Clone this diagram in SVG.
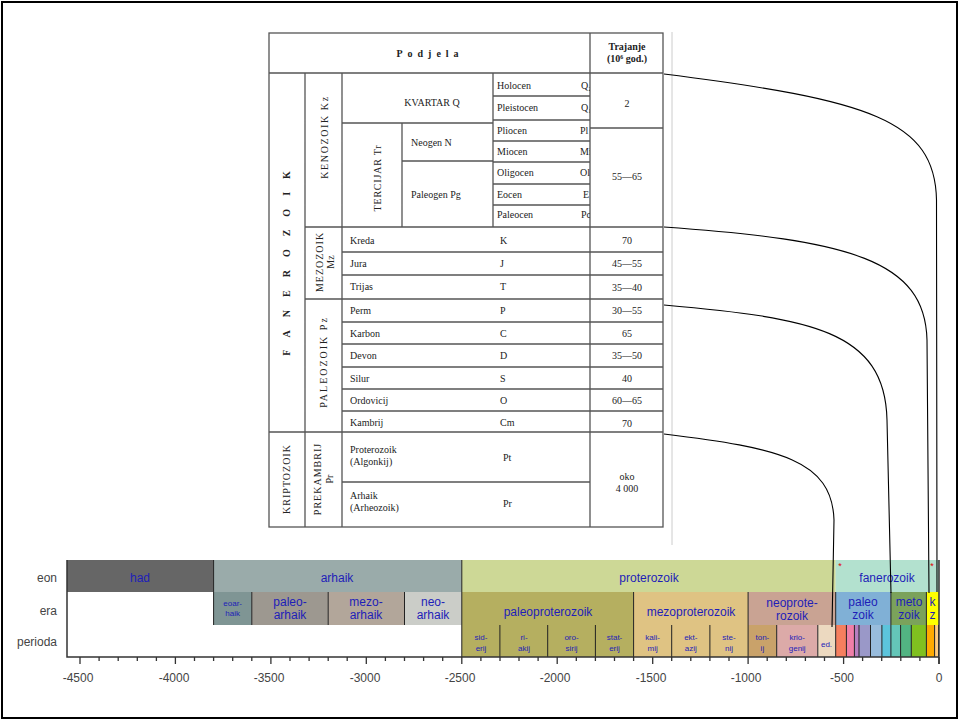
<svg xmlns="http://www.w3.org/2000/svg" width="960" height="720" viewBox="0 0 960 720">
<style>
.tl{stroke:#555;stroke-width:1.3;fill:none}
.tt{font-family:"Liberation Serif",serif;font-size:10px;fill:#222}
.tc{font-family:"Liberation Serif",serif;font-size:10px;fill:#222;text-anchor:middle}
.vt{font-family:"Liberation Serif",serif;font-size:10px;fill:#222;text-anchor:middle}
.conn{stroke:#000;stroke-width:1.1;fill:none}
.lbl{font-family:"Liberation Sans",Arial,sans-serif;font-size:12px;fill:#1e1eb8;text-anchor:middle}
.sm{font-size:8px}
.ax{font-family:"Liberation Sans",Arial,sans-serif;font-size:12px;fill:#444;text-anchor:middle}
.rl{font-family:"Liberation Sans",Arial,sans-serif;font-size:12px;fill:#444;text-anchor:end}
.sep{stroke:#222;stroke-width:1;fill:none}
.ast{font-family:"Liberation Sans",sans-serif;font-size:9px;fill:#e00000;text-anchor:middle}
</style>
<defs>
<clipPath id="epclip"><rect x="493" y="73" width="97" height="155"/></clipPath>
</defs>
<rect x="0" y="0" width="960" height="720" fill="#fff"/>
<rect x="2" y="2" width="955" height="716" fill="none" stroke="#000" stroke-width="2"/>

<g id="table">
<line x1="672" y1="32" x2="672" y2="545" stroke="#ccc" stroke-width="1"/>
<rect class="tl" x="269" y="33" width="394" height="494"/>
<path class="tl" d="M269,73H663 M590,33V527 M305,73V527 M342,73V527 M269,432H663 M305,227H663 M305,299H663 M493,73V227 M342,123H493 M402,123V227 M402,161H493 M493,96H590 M493,120H590 M493,141H590 M493,162H590 M493,184H590 M493,205H590 M590,128H663 M342,252H663 M342,275H663 M342,322H663 M342,344H663 M342,367H663 M342,389H663 M342,411H663 M342,482H590"/>
<text class="tc" x="430" y="57" font-weight="bold" letter-spacing="5">Podjela</text>
<text class="tc" x="627" y="50" font-weight="bold" font-size="9">Trajanje</text>
<text class="tc" x="627" y="62" font-weight="bold" font-size="9">(10⁶ god.)</text>
<g transform="translate(290,257) rotate(-90)"><text class="vt" x="0" y="0" font-weight="bold" letter-spacing="13">FANEROZOIK</text></g>
<g transform="translate(328,137) rotate(-90)"><text class="vt" x="0" y="0" letter-spacing="1.6">KENOZOIK Kz</text></g>
<g transform="translate(381,178) rotate(-90)"><text class="vt" x="0" y="0" letter-spacing="0.8">TERCIJAR Tr</text></g>
<g transform="translate(323,262) rotate(-90)"><text class="vt" x="0" y="0" letter-spacing="1">MEZOZOIK</text><text class="vt" x="0" y="11">Mz</text></g>
<g transform="translate(327,362) rotate(-90)"><text class="vt" x="0" y="0" letter-spacing="2">PALEOZOIK Pz</text></g>
<g transform="translate(290,479) rotate(-90)"><text class="vt" x="0" y="0" letter-spacing="1">KRIPTOZOIK</text></g>
<g transform="translate(321,479) rotate(-90)"><text class="vt" x="0" y="0" letter-spacing="1">PREKAMBRIJ</text><text class="vt" x="0" y="12">Pr</text></g>
<text class="tc" x="432" y="106">KVARTAR Q</text>
<text class="tt" x="411" y="146">Neogen N</text>
<text class="tt" x="411" y="198">Paleogen Pg</text>
<g clip-path="url(#epclip)">
<text class="tt" x="497" y="89">Holocen</text><text class="tt" x="581" y="89">Q₂</text>
<text class="tt" x="497" y="111">Pleistocen</text><text class="tt" x="581" y="111">Q₁</text>
<text class="tt" x="497" y="134">Pliocen</text><text class="tt" x="580" y="134">Pl</text>
<text class="tt" x="497" y="155">Miocen</text><text class="tt" x="580" y="155">Mi</text>
<text class="tt" x="497" y="176">Oligocen</text><text class="tt" x="580" y="176">Ol</text>
<text class="tt" x="497" y="198">Eocen</text><text class="tt" x="583" y="198">E</text>
<text class="tt" x="497" y="218">Paleocen</text><text class="tt" x="581" y="218">Pc</text>
</g>
<text class="tc" x="627" y="107">2</text>
<text class="tc" x="627" y="180">55—65</text>
<text class="tt" x="350" y="244">Kreda</text><text class="tt" x="500" y="244">K</text><text class="tc" x="627" y="244">70</text>
<text class="tt" x="350" y="267">Jura</text><text class="tt" x="500" y="267">J</text><text class="tc" x="627" y="267">45—55</text>
<text class="tt" x="350" y="290">Trijas</text><text class="tt" x="500" y="290">T</text><text class="tc" x="627" y="291">35—40</text>
<text class="tt" x="350" y="314">Perm</text><text class="tt" x="500" y="314">P</text><text class="tc" x="627" y="314">30—55</text>
<text class="tt" x="350" y="337">Karbon</text><text class="tt" x="500" y="337">C</text><text class="tc" x="627" y="337">65</text>
<text class="tt" x="350" y="359">Devon</text><text class="tt" x="500" y="359">D</text><text class="tc" x="627" y="359">35—50</text>
<text class="tt" x="350" y="382">Silur</text><text class="tt" x="500" y="382">S</text><text class="tc" x="627" y="382">40</text>
<text class="tt" x="350" y="404">Ordovicij</text><text class="tt" x="500" y="404">O</text><text class="tc" x="627" y="404">60—65</text>
<text class="tt" x="350" y="426">Kambrij</text><text class="tt" x="500" y="426">Cm</text><text class="tc" x="627" y="427">70</text>
<text class="tt" x="350" y="453">Proterozoik</text><text class="tt" x="350" y="465">(Algonkij)</text><text class="tt" x="503" y="461">Pt</text>
<text class="tt" x="350" y="499">Arhaik</text><text class="tt" x="350" y="511">(Arheozoik)</text><text class="tt" x="503" y="507">Pr</text>
<text class="tc" x="627" y="480">oko</text>
<text class="tc" x="627" y="492">4 000</text>
</g>

<g id="row-labels">
<text class="rl" x="57" y="582">eon</text>
<text class="rl" x="57" y="615">era</text>
<text class="rl" x="57" y="646">perioda</text>
</g>

<g id="eons">
<g id="eon-had"><rect x="67" y="560" width="146.6" height="32" fill="#666666"/><text class="lbl" x="140" y="582">had</text></g>
<g id="eon-arhaik"><rect x="213.6" y="560" width="248.2" height="32" fill="#9aabaa"/><text class="lbl" x="337" y="582">arhaik</text></g>
<g id="eon-proterozoik"><rect x="461.8" y="560" width="373.9" height="32" fill="#cdd896"/><text class="lbl" x="649" y="582">proterozoik</text></g>
<g id="eon-fanerozoik"><rect x="835.7" y="560" width="103.3" height="32" fill="#b3e1cf"/><text class="lbl" x="887" y="582">fanerozoik</text></g>
<text class="ast" x="840" y="569">*</text>
<text class="ast" x="932" y="569">*</text>
</g>

<g id="eras">
<g id="era-eoarhaik"><rect x="213.6" y="592" width="38.2" height="33" fill="#7f9594"/><text class="lbl sm" x="232.7" y="606">eoar-</text><text class="lbl sm" x="232.7" y="616">haik</text></g>
<g id="era-paleoarhaik"><rect x="251.8" y="592" width="76.4" height="33" fill="#9d9890"/><text class="lbl" x="290" y="606">paleo-</text><text class="lbl" x="290" y="619">arhaik</text></g>
<g id="era-mezoarhaik"><rect x="328.2" y="592" width="76.3" height="33" fill="#b2a69a"/><text class="lbl" x="366" y="606">mezo-</text><text class="lbl" x="366" y="619">arhaik</text></g>
<g id="era-neoarhaik"><rect x="404.5" y="592" width="57.3" height="33" fill="#cbcdc8"/><text class="lbl" x="433" y="606">neo-</text><text class="lbl" x="433" y="619">arhaik</text></g>
<g id="era-paleoproterozoik"><rect x="461.8" y="592" width="171.8" height="33" fill="#b5af60"/><text class="lbl" x="548" y="616">paleoproterozoik</text></g>
<g id="era-mezoproterozoik"><rect x="633.6" y="592" width="114.5" height="33" fill="#dfc383"/><text class="lbl" x="691" y="616">mezoproterozoik</text></g>
<g id="era-neoproterozoik"><rect x="748.1" y="592" width="87.6" height="33" fill="#c9a393"/><text class="lbl" x="792" y="607">neoprote-</text><text class="lbl" x="792" y="620">rozoik</text></g>
<g id="era-paleozoik"><rect x="835.7" y="592" width="55.2" height="33" fill="#80b0d6"/><text class="lbl" x="863" y="606">paleo</text><text class="lbl" x="863" y="619">zoik</text></g>
<g id="era-mezozoik"><rect x="890.9" y="592" width="35.5" height="33" fill="#7ba25b"/><text class="lbl" x="909" y="606">meto</text><text class="lbl" x="909" y="619">zoik</text></g>
<g id="era-kenozoik"><rect x="926.4" y="592" width="12.6" height="33" fill="#ffff00"/><text class="lbl" x="932.5" y="606">k</text><text class="lbl" x="932.5" y="619">z</text></g>
</g>

<g id="periods">
<rect x="461.8" y="625" width="171.8" height="32" fill="#b5af60"/>
<rect x="633.6" y="625" width="114.5" height="32" fill="#dfc383"/>
<rect x="748.1" y="625" width="28.6" height="32" fill="#c9a26a"/>
<rect x="776.7" y="625" width="41.1" height="32" fill="#dcaaa8"/>
<rect x="817.8" y="625" width="17.9" height="32" fill="#ecd9c0"/>
<rect x="835.7" y="625" width="10.7" height="32" fill="#f57f5f"/>
<rect x="846.4" y="625" width="8" height="32" fill="#f07fa8"/>
<rect x="854.4" y="625" width="4.6" height="32" fill="#b67fc0"/>
<rect x="859" y="625" width="11.5" height="32" fill="#9a98c8"/>
<rect x="870.5" y="625" width="11.4" height="32" fill="#98bcdc"/>
<rect x="881.9" y="625" width="9" height="32" fill="#5cc4dc"/>
<rect x="890.9" y="625" width="9.7" height="32" fill="#64c6b8"/>
<rect x="900.6" y="625" width="10.7" height="32" fill="#52b482"/>
<rect x="911.3" y="625" width="15.1" height="32" fill="#80c020"/>
<rect x="926.4" y="625" width="8.2" height="32" fill="#ffaa00"/>
<rect x="934.6" y="625" width="4.4" height="32" fill="#ffcc80"/>
<text class="lbl sm" x="481" y="640">sid-</text><text class="lbl sm" x="481" y="651">erij</text>
<text class="lbl sm" x="524" y="640">ri-</text><text class="lbl sm" x="524" y="651">akij</text>
<text class="lbl sm" x="571.5" y="640">oro-</text><text class="lbl sm" x="571.5" y="651">sirij</text>
<text class="lbl sm" x="614.5" y="640">stat-</text><text class="lbl sm" x="614.5" y="651">erij</text>
<text class="lbl sm" x="652.7" y="640">kali-</text><text class="lbl sm" x="652.7" y="651">mij</text>
<text class="lbl sm" x="690.8" y="640">ekt-</text><text class="lbl sm" x="690.8" y="651">azij</text>
<text class="lbl sm" x="729" y="640">ste-</text><text class="lbl sm" x="729" y="651">nij</text>
<text class="lbl sm" x="762.4" y="640">ton-</text><text class="lbl sm" x="762.4" y="651">ij</text>
<text class="lbl sm" x="797.2" y="640">krio-</text><text class="lbl sm" x="797.2" y="651">genij</text>
<text class="lbl sm" x="826.5" y="647">ed.</text>
</g>

<g id="frame">
<path class="sep" d="M213.6,560V625 M461.8,560V657 M251.8,592V625 M328.2,592V625 M404.5,592V625 M633.6,592V657 M748.1,592V657 M835.7,592V657 M890.9,592V657 M926.4,592V657 M499.9,625V657 M547.7,625V657 M595.4,625V657 M671.7,625V657 M709.9,625V657 M776.7,625V657 M817.8,625V657 M846.4,625V657 M854.4,625V657 M859,625V657 M870.5,625V657 M881.9,625V657 M900.6,625V657 M911.3,625V657 M934.6,625V657 M938.5,625V657"/>
<path d="M67,560V657H939 M939,560V664" stroke="#333" stroke-width="1.5" fill="none"/>
</g>

<g id="axis">
<path stroke="#333" stroke-width="1.3" fill="none" d="M80,657V664 M175.4,657V664 M270.9,657V664 M366.3,657V664 M461.8,657V664 M557.2,657V664 M652.7,657V664 M748.1,657V664 M843.6,657V664 M939,657V664 M99.1,657V661 M118.2,657V661 M137.3,657V661 M156.4,657V661 M194.5,657V661 M213.6,657V661 M232.7,657V661 M251.8,657V661 M290,657V661 M309.1,657V661 M328.2,657V661 M347.2,657V661 M385.4,657V661 M404.5,657V661 M423.6,657V661 M442.7,657V661 M480.9,657V661 M500,657V661 M519,657V661 M538.1,657V661 M576.3,657V661 M595.4,657V661 M614.5,657V661 M633.6,657V661 M671.7,657V661 M690.8,657V661 M709.9,657V661 M729,657V661 M767.2,657V661 M786.3,657V661 M805.4,657V661 M824.5,657V661 M862.6,657V661 M881.7,657V661 M900.8,657V661 M919.9,657V661"/>
<text class="ax" x="78" y="682">-4500</text>
<text class="ax" x="174" y="682">-4000</text>
<text class="ax" x="269" y="682">-3500</text>
<text class="ax" x="365" y="682">-3000</text>
<text class="ax" x="460" y="682">-2500</text>
<text class="ax" x="555" y="682">-2000</text>
<text class="ax" x="651" y="682">-1500</text>
<text class="ax" x="746" y="682">-1000</text>
<text class="ax" x="842" y="682">-500</text>
<text class="ax" x="939" y="682">0</text>
</g>

<g id="connectors">
<path class="conn" d="M664,74 C870,100 935,120 936.5,200 L937,592"/>
<path class="conn" d="M664,227 C850,240 925,260 927,340 L929,593"/>
<path class="conn" d="M664,305 C810,318 885,330 887,420 L891,593"/>
<path class="conn" d="M664,434 C780,448 832,460 834,520 L832,627"/>
</g>
</svg>
